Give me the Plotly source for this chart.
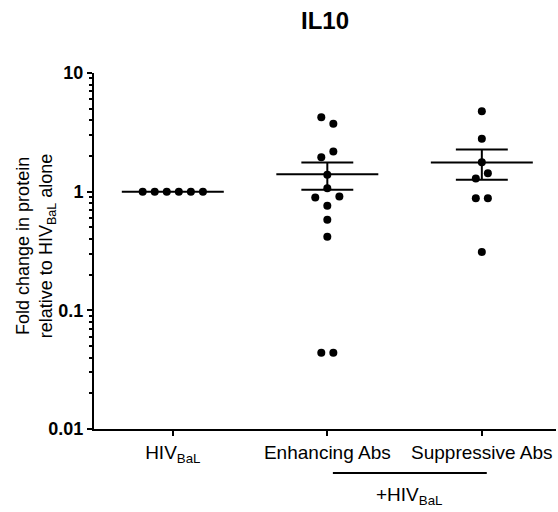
import numpy as np
import plotly.graph_objects as go

# ---- data ----
categories = ["HIV<sub>BaL</sub>", "Enhancing Abs", "Suppressive Abs"]
hiv_vals = [1.0, 1.0, 1.0, 1.0, 1.0, 1.0]
enh_vals = [4.24, 3.73, 2.18, 1.95, 1.39, 1.07, 0.895, 0.91, 0.76, 0.58, 0.417, 0.044, 0.044]
sup_vals = [4.76, 2.79, 1.77, 1.43, 1.29, 0.88, 0.88, 0.31]
ytick_vals = [0.01, 0.1, 1, 10]
ytick_text = ["0.01", "0.1", "1", "10"]

# horizontal jitter of dots (in dot-steps)
hiv_jit = [-2.5, -1.5, -0.5, 0.5, 1.5, 2.5]
enh_jit = [-0.5, 0.5, 0.5, -0.5, 0, 0, -1, 1, 0, 0, 0, -0.5, 0.5]
sup_jit = [0, 0, 0, 0.5, -0.5, -0.5, 0.5, 0]

STEP = 0.078
MEAN_HW = 0.33
CAP_HW = 0.168
FONT = "Arial, Liberation Sans, sans-serif"

groups = [(hiv_vals, hiv_jit), (enh_vals, enh_jit), (sup_vals, sup_jit)]

fig = go.Figure()
for i, (vals, jit) in enumerate(groups):
    v = np.array(vals)
    mean = v.mean()
    sem = v.std(ddof=1) / np.sqrt(len(v))
    # mean line
    fig.add_trace(go.Scatter(x=[i - MEAN_HW, i + MEAN_HW], y=[mean, mean], mode="lines",
                             line=dict(color="black", width=2), showlegend=False, hoverinfo="skip"))
    if sem > 0:
        lo, hi = mean - sem, mean + sem
        fig.add_trace(go.Scatter(x=[i - CAP_HW, i + CAP_HW, None, i - CAP_HW, i + CAP_HW, None, i, i],
                                 y=[hi, hi, None, lo, lo, None, lo, hi], mode="lines",
                                 line=dict(color="black", width=2), showlegend=False, hoverinfo="skip"))
    fig.add_trace(go.Scatter(x=[i + j * STEP for j in jit], y=vals, mode="markers",
                             marker=dict(color="black", size=8), showlegend=False))

minor_vals = [m * 10.0 ** k for k in (-2, -1, 0) for m in range(2, 10)]

fig.update_layout(
    width=558, height=512,
    margin=dict(l=94, r=2, t=73, b=83),
    paper_bgcolor="white", plot_bgcolor="white",
    font=dict(family=FONT, color="black", size=18),
    title=dict(text="<b>IL10</b>", x=0.5, xref="paper", y=1 - 21 / 512, yref="container",
               yanchor="middle", xanchor="center", font=dict(size=24, family=FONT, color="black")),
    xaxis=dict(range=[-0.51, 2.48], tickvals=[0, 1, 2], ticktext=categories,
               showline=True, linecolor="black", linewidth=2, ticks="outside", ticklen=5,
               tickwidth=2, tickcolor="black", showgrid=False, zeroline=False,
               tickfont=dict(size=19, family=FONT, color="black")),
    yaxis=dict(type="log", range=[-2, 1], tickvals=ytick_vals,
               ticktext=["<b>%s</b>" % t for t in ytick_text],
               showline=True, linecolor="black", linewidth=2, ticks="outside", ticklen=5,
               tickwidth=2, tickcolor="black", showgrid=False, zeroline=False,
               tickfont=dict(size=18, family=FONT, color="black"),
               minor=dict(tickvals=minor_vals, ticks="outside", ticklen=3, tickwidth=1.5,
                          tickcolor="black", showgrid=False)),
)

fig.add_annotation(text="Fold change in protein<br>relative to HIV<sub>BaL</sub> alone",
                   textangle=-90, xref="paper", yref="paper", x=(35.5 - 94) / 462, y=0.515,
                   xanchor="center", yanchor="middle", showarrow=False,
                   font=dict(size=18, family=FONT, color="black"))

fig.add_shape(type="line", xref="x", yref="paper", x0=1.036, x1=2.032,
              y0=(429 - 473) / 356, y1=(429 - 473) / 356, line=dict(color="black", width=2))
fig.add_annotation(text="+HIV<sub>BaL</sub>", xref="x", yref="paper", x=1.53,
                   y=(429 - 496) / 356, xanchor="center", yanchor="middle", showarrow=False,
                   font=dict(size=19, family=FONT, color="black"))

fig.write_html("out.html")
